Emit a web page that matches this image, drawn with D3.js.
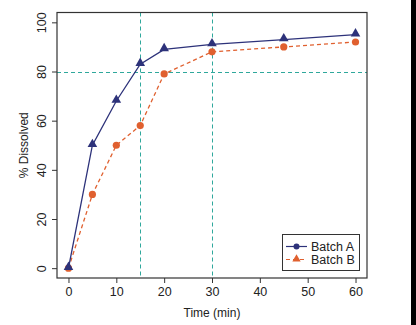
<!DOCTYPE html>
<html><head><meta charset="utf-8">
<script src="https://cdn.jsdelivr.net/npm/d3@7"></script>
<style>html,body{margin:0;padding:0;background:#fff;}svg{display:block;}</style>
</head><body>
<script>
const times = [0, 5, 10, 15, 20, 30, 45, 60];
const batchA = [0, 50, 68, 83, 89, 91, 93, 95];
const batchB = [0, 30, 50, 58, 79, 88, 90, 92];
const xTicks = [0, 10, 20, 30, 40, 50, 60];
const yTicks = [0, 20, 40, 60, 80, 100];
const refTimes = [15, 30];
const refLevel = [80];
const seriesNames = ["Batch A", "Batch B"];

const W = 416, H = 325;
const navy = "#2d327a", orange = "#e0602f", teal = "#2fa89c";
const svg = d3.select("body").append("svg").attr("width", W).attr("height", H)
  .style("font-family", "'Liberation Sans', Arial, sans-serif");
svg.append("rect").attr("width", W).attr("height", H).attr("fill", "#fff");
svg.append("rect").attr("x", 411).attr("y", 0).attr("width", 5).attr("height", H).attr("fill", "#000");

const L = 57, R = 367, T = 12.5, B = 278;
const x = d3.scaleLinear().domain([-2.4, 62.4]).range([L, R]);
const y = d3.scaleLinear().domain([-4, 104]).range([B, T]);

// axes
const xa = svg.append("g").attr("transform", `translate(0,${B})`)
  .call(d3.axisBottom(x).tickValues(xTicks).tickSize(5).tickPadding(4));
xa.select(".domain").remove();
xa.selectAll("line").attr("stroke", "#333");
xa.selectAll("text").attr("font-size", 12.5).attr("fill", "#222");

const ya = svg.append("g").attr("transform", `translate(${L},0)`)
  .call(d3.axisLeft(y).tickValues(yTicks).tickSize(5).tickPadding(4));
ya.select(".domain").remove();
ya.selectAll("line").attr("stroke", "#333");
ya.selectAll("text").attr("font-size", 12.5).attr("fill", "#222")
  .attr("text-anchor", "middle").attr("x", 0).attr("y", 0).attr("dy", "0.35em")
  .attr("transform", "translate(-15,0) rotate(-90)");

// reference lines
svg.selectAll("line.vref").data(refTimes).join("line").attr("class", "vref")
  .attr("x1", d => Math.round(x(d)) + 0.5).attr("x2", d => Math.round(x(d)) + 0.5).attr("y1", T).attr("y2", B)
  .attr("stroke", teal).attr("stroke-width", 1).attr("stroke-dasharray", "4,3");
svg.selectAll("line.href").data(refLevel).join("line").attr("class", "href")
  .attr("x1", L).attr("x2", R).attr("y1", d => Math.round(y(d)) + 0.5).attr("y2", d => Math.round(y(d)) + 0.5)
  .attr("stroke", teal).attr("stroke-width", 1).attr("stroke-dasharray", "4,3");

const line = d3.line().x(d => x(d[0])).y(d => y(d[1]));
const dA = times.map((t, i) => [t, batchA[i]]);
const dB = times.map((t, i) => [t, batchB[i]]);

svg.append("path").datum(dB).attr("d", line).attr("fill", "none")
  .attr("stroke", orange).attr("stroke-width", 1.3).attr("stroke-dasharray", "4,3");
svg.append("path").datum(dA).attr("d", line).attr("fill", "none")
  .attr("stroke", navy).attr("stroke-width", 1.3);

const tri = d3.symbol().type(d3.symbolTriangle).size(40);
svg.selectAll("circle.pB").data(dB).join("circle").attr("class", "pB")
  .attr("cx", d => x(d[0])).attr("cy", d => y(d[1])).attr("r", 3.6).attr("fill", orange);
svg.selectAll("path.pA").data(dA).join("path").attr("class", "pA")
  .attr("d", tri).attr("transform", d => `translate(${x(d[0])},${y(d[1]) - 1})`).attr("fill", navy);

// box
svg.append("rect").attr("x", L).attr("y", T).attr("width", R - L).attr("height", B - T)
  .attr("fill", "none").attr("stroke", "#333").attr("stroke-width", 1.2);

// labels
svg.append("text").attr("x", (L + R) / 2).attr("y", 317).attr("text-anchor", "middle")
  .attr("font-size", 12).attr("fill", "#222").text("Time (min)");
svg.append("text").attr("transform", `translate(28,${(T + B) / 2}) rotate(-90)`)
  .attr("text-anchor", "middle").attr("font-size", 12).attr("fill", "#222").text("% Dissolved");

// legend
const lg = svg.append("g");
lg.append("rect").attr("x", 282.5).attr("y", 234.5).attr("width", 77).attr("height", 36)
  .attr("fill", "#fff").attr("stroke", "#333").attr("stroke-width", 1);
const rows = [246.5, 259.5];
lg.append("line").attr("x1", 286).attr("x2", 307).attr("y1", rows[0]).attr("y2", rows[0])
  .attr("stroke", navy).attr("stroke-width", 1.2);
lg.append("circle").attr("cx", 296.5).attr("cy", rows[0]).attr("r", 3).attr("fill", navy);
lg.append("line").attr("x1", 286).attr("x2", 307).attr("y1", rows[1]).attr("y2", rows[1])
  .attr("stroke", orange).attr("stroke-width", 1.2).attr("stroke-dasharray", "4,3");
lg.append("path").attr("d", d3.symbol().type(d3.symbolTriangle).size(30))
  .attr("transform", `translate(296.5,${rows[1] - 0.5})`).attr("fill", orange);
lg.selectAll("text.lt").data(seriesNames).join("text").attr("class", "lt")
  .attr("x", 311).attr("y", (d, i) => rows[i]).attr("dy", "0.35em")
  .attr("font-size", 12.5).attr("fill", "#222").text(d => d);
</script>
</body></html>
